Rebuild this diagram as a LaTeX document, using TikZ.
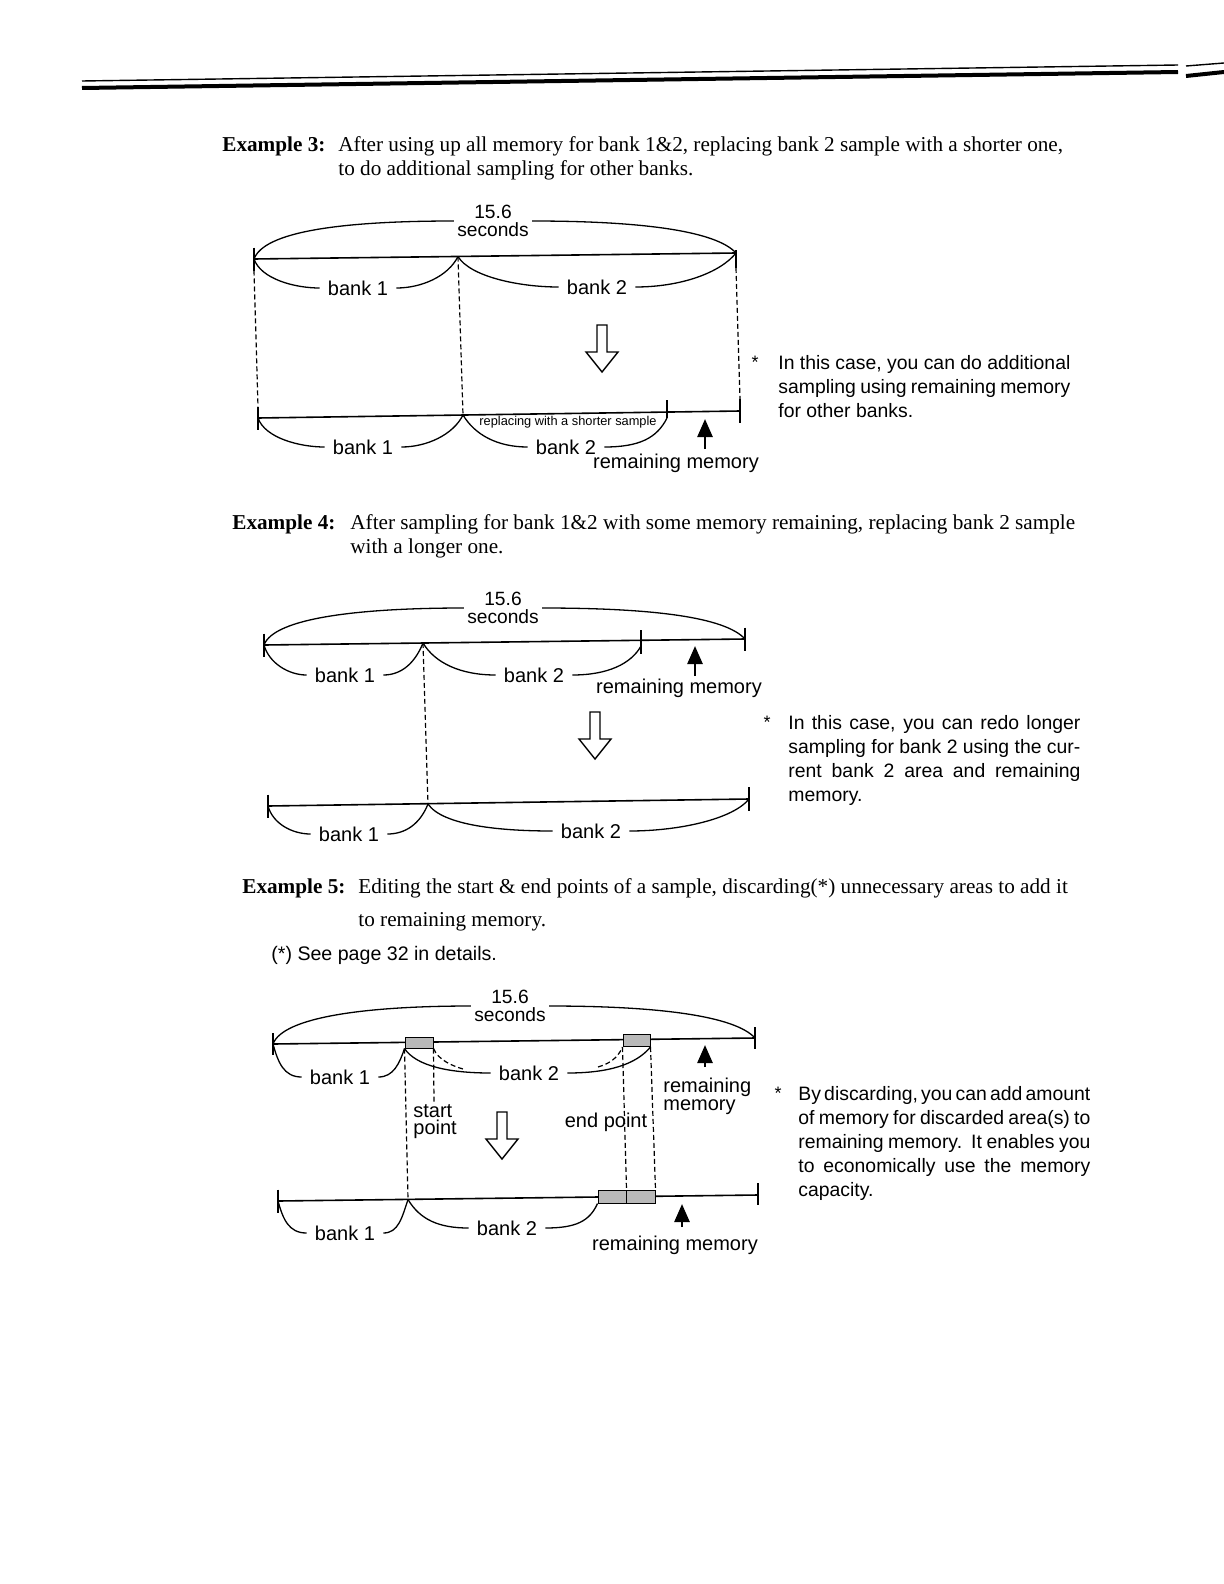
\documentclass[tikz,border=0pt]{standalone}
\usepackage{fontspec}
\setmainfont{Liberation Serif}
\newfontfamily\hv{Liberation Sans}
\usetikzlibrary{arrows.meta}
\begin{document}
\begin{tikzpicture}[x=0.5pt,y=-0.5pt,
  baseln/.style={line width=0.8pt},
  brace/.style={line width=0.65pt},
  guide/.style={line width=0.6pt, dash pattern=on 2.5pt off 1.5pt},
  lbl/.style={font=\hv\fontsize{10}{10}\selectfont, inner xsep=4pt, inner ysep=1pt},
  sec/.style={font=\hv\fontsize{9.6}{9}\selectfont, align=center, inner sep=0.5pt},
  two/.style={font=\hv\fontsize{10}{8.8}\selectfont, align=left, inner sep=0pt, anchor=west},
  head/.style={font=\fontsize{10.6}{12}\selectfont, anchor=west, inner sep=0pt},
  note/.style={font=\hv\fontsize{9.7}{12}\selectfont, text width=146pt, align=justify, anchor=north west, inner sep=0pt},
  star/.style={font=\hv\fontsize{9}{9}\selectfont, inner sep=0pt},
  tiny/.style={font=\hv\fontsize{6.4}{6.4}\selectfont, inner sep=0pt},
  hbox/.style={draw, line width=0.5pt, fill=gray!55, inner sep=0pt},
  solidup/.style={line width=1.3pt, -{Triangle[length=9pt,width=7.5pt]}},
  hollowdown/.pic={\draw[line width=0.7pt, fill=white] (-5,0) -- (5,0) -- (5,27) -- (16,27) -- (0,47) -- (-16,27) -- (-5,27) -- cycle;}
]
\useasboundingbox (0,0) rectangle (1224,1584);
\fill[white] (0,0) rectangle (1224,1584);

% ---- top rule of the page
\draw[line width=0.7pt] (82,81) -- (1178,65);
\draw[line width=2pt] (82,88) -- (1178,72);
\draw[line width=0.7pt] (1186,66) -- (1224,63);
\draw[line width=2pt] (1186,76) -- (1224,72);

% ================= Example 3
\node[head] (h3a) at (222,146) {\bfseries Example 3:};
\node[head] (h3b) at (338,146) {After using up all memory for bank 1\&2, replacing bank 2 sample with a shorter one,};
\node[head] (h3c) at (338,170) {to do additional sampling for other banks.};

\coordinate (a1) at (254,259);
\coordinate (a2) at (458,256.5);
\coordinate (a3) at (736,253);
\draw[baseln] (a1) -- (a3);
\draw[baseln] ([yshift=5.75pt]a1) -- ([yshift=-5.75pt]a1);
\draw[baseln] ([yshift=1.5pt]a3) -- ([yshift=-7.5pt]a3);
\node[sec] (s3) at (493,221) {15.6\\seconds};
\node[lbl] (b31) at (358,288) {bank 1};
\node[lbl] (b32) at (597,287) {bank 2};
\draw[brace] (a1) .. controls +(10,-27) and +(-115,0) .. ([xshift=-1pt]s3.west);
\draw[brace] ([xshift=1pt]s3.east) .. controls +(110,0) and +(-20,-22) .. (a3);
\draw[brace] (a1) .. controls +(7,20) and +(-25,0) .. (b31.west);
\draw[brace] (b31.east) .. controls +(25,0) and +(-10,20) .. (a2);
\draw[brace] (a2) .. controls +(12,20) and +(-40,0) .. (b32.west);
\draw[brace] (b32.east) .. controls +(45,0) and +(-16,20) .. (a3);

\pic at (602,325) {hollowdown};

\coordinate (c1) at (258,418);
\coordinate (c2) at (463,415);
\coordinate (c3) at (667,412);
\coordinate (c4) at (740,411);
\draw[baseln] (c1) -- (c4);
\draw[baseln] ([yshift=5.75pt]c1) -- ([yshift=-5.75pt]c1);
\draw[baseln] ([yshift=6pt]c4) -- ([yshift=-6pt]c4);
\draw[baseln] ([yshift=6pt]c3) -- ([yshift=-3pt]c3);
\node[tiny] (rep) at (568,422) {replacing with a shorter sample};
\node[lbl] (b33) at (363,447) {bank 1};
\node[lbl] (b34) at (566,447) {bank 2};
\draw[brace] (c1) .. controls +(7,20) and +(-25,0) .. (b33.west);
\draw[brace] (b33.east) .. controls +(25,0) and +(-10,20) .. (c2);
\draw[brace] (c2) .. controls +(12,20) and +(-30,0) .. (b34.west);
\draw[brace] (b34.east) .. controls +(35,0) and +(-10,20) .. ([yshift=-3pt]c3);
\coordinate (u3a) at (705,449);
\coordinate (u3b) at (705,419);
\draw[solidup] (u3a) -- (u3b);
\node[lbl] (r3) at (676,463) {remaining memory};

\draw[guide] ([yshift=-5.75pt]a1) -- ([yshift=5.75pt]c1);
\draw[guide] (a2) -- (c2);
\draw[guide] ([yshift=-7.5pt]a3) -- ([yshift=6pt]c4);

\node[star] (st3) at (755,362) {*};
\node[note] (n3) at (778,355) {In this case, you can do additional\linebreak sampling using remaining memory\linebreak for other banks.};

% ================= Example 4
\node[head] (h4a) at (232,524) {\bfseries Example 4:};
\node[head] (h4b) at (350,524) {After sampling for bank 1\&2 with some memory remaining, replacing bank 2 sample};
\node[head] (h4c) at (350,548) {with a longer one.};

\coordinate (d1) at (264,645);
\coordinate (d2) at (423,643);
\coordinate (d3) at (641,640);
\coordinate (d4) at (745,639);
\draw[baseln] (d1) -- (d4);
\draw[baseln] ([yshift=5.75pt]d1) -- ([yshift=-5.75pt]d1);
\draw[baseln] ([yshift=5.75pt]d4) -- ([yshift=-5.75pt]d4);
\draw[baseln] ([yshift=5pt]d3) -- ([yshift=-7pt]d3);
\node[sec] (s4) at (503,608) {15.6\\seconds};
\node[lbl] (b41) at (345,675) {bank 1};
\node[lbl] (b42) at (534,675) {bank 2};
\draw[brace] (d1) .. controls +(10,-27) and +(-105,0) .. ([xshift=-1pt]s4.west);
\draw[brace] ([xshift=1pt]s4.east) .. controls +(110,0) and +(-20,-22) .. (d4);
\draw[brace] (d1) .. controls +(5,18) and +(-18,0) .. (b41.west);
\draw[brace] (b41.east) .. controls +(18,0) and +(-8,20) .. (d2);
\draw[brace] (d2) .. controls +(12,20) and +(-35,0) .. (b42.west);
\draw[brace] (b42.east) .. controls +(35,0) and +(-10,18) .. ([yshift=-3pt]d3);
\coordinate (u4a) at (695,676);
\coordinate (u4b) at (695,646);
\draw[solidup] (u4a) -- (u4b);
\node[lbl] (r4) at (679,688) {remaining memory};

\pic at (595,712) {hollowdown};

\coordinate (e1) at (268,806);
\coordinate (e2) at (428,804);
\coordinate (e3) at (749,799);
\draw[baseln] (e1) -- (e3);
\draw[baseln] ([yshift=5.75pt]e1) -- ([yshift=-5.75pt]e1);
\draw[baseln] ([yshift=6pt]e3) -- ([yshift=-6pt]e3);
\node[lbl] (b43) at (349,834) {bank 1};
\node[lbl] (b44) at (591,831) {bank 2};
\draw[brace] (e1) .. controls +(5,18) and +(-18,0) .. (b43.west);
\draw[brace] (b43.east) .. controls +(18,0) and +(-8,20) .. (e2);
\draw[brace] (e2) .. controls +(15,22) and +(-50,0) .. (b44.west);
\draw[brace] (b44.east) .. controls +(50,0) and +(-16,20) .. (e3);
\draw[guide] (d2) -- (e2);

\node[star] (st4) at (767,722) {*};
\node[note] (n4) at (788,715) {In this case, you can redo longer\linebreak sampling for bank 2 using the cur-\linebreak rent bank 2 area and remaining\linebreak memory.};

% ================= Example 5
\node[head] (h5a) at (242,888) {\bfseries Example 5:};
\node[head] (h5b) at (358,888) {Editing the start \& end points of a sample, discarding(*) unnecessary areas to add it};
\node[head] (h5c) at (358,922) {to remaining memory.};
\node[anchor=west, inner sep=0pt, font=\hv\fontsize{9.8}{12}\selectfont] (h5d) at (271,955) {(*) See page 32 in details.};

\coordinate (f1) at (273,1044);
\coordinate (f6) at (755,1038);
\draw[baseln] (f1) -- (f6);
\draw[baseln] ([yshift=5.5pt]f1) -- ([yshift=-5.5pt]f1);
\draw[baseln] ([yshift=5.5pt]f6) -- ([yshift=-5.5pt]f6);
\node[hbox, minimum width=14pt, minimum height=5.5pt] (hb1) at (419,1042.5) {};
\node[hbox, minimum width=13.5pt, minimum height=6pt] (hb2) at (636.5,1040.5) {};
\node[sec] (s5) at (510,1006) {15.6\\seconds};
\node[lbl] (b51) at (340,1077) {bank 1};
\node[lbl] (b52) at (529,1073) {bank 2};
\draw[brace] (f1) .. controls +(10,-27) and +(-105,0) .. ([xshift=-1pt]s5.west);
\draw[brace] ([xshift=1pt]s5.east) .. controls +(110,0) and +(-20,-22) .. (f6);
\draw[brace] (f1) .. controls +(5,18) and +(-18,0) .. (b51.west);
\draw[brace] (b51.east) .. controls +(15,0) and +(-5,15) .. (hb1.south west);
\draw[brace] (hb1.south west) .. controls +(12,18) and +(-40,0) .. (b52.west);
\draw[brace] (b52.east) .. controls +(40,0) and +(-15,18) .. (hb2.south east);
\coordinate (j1) at (463,1069);
\coordinate (j2) at (598,1067);
\draw[guide] (hb1.south east) .. controls +(5,12) and +(-10,-3) .. (j1);
\draw[guide] (j2) .. controls +(10,-3) and +(-5,12) .. (hb2.south west);
\coordinate (u5a) at (705,1067);
\coordinate (u5b) at (705,1045);
\draw[solidup] (u5a) -- (u5b);
\node[two] (r5) at (663,1096.5) {remaining\\memory};
\node[two] (sp) at (413,1121.5) {start\\point};
\node[lbl] (ep) at (606,1122) {end point};

\pic at (502,1112) {hollowdown};

\coordinate (g1) at (278,1201);
\coordinate (g2) at (408,1199.5);
\coordinate (g4) at (758,1195);
\draw[baseln] (g1) -- (g4);
\draw[baseln] ([yshift=5.75pt]g1) -- ([yshift=-5.75pt]g1);
\draw[baseln] ([yshift=6pt]g4) -- ([yshift=-5pt]g4);
\node[hbox, minimum width=14pt, minimum height=6.5pt] (hb3) at (612,1196.5) {};
\node[hbox, minimum width=14.5pt, minimum height=6.5pt] (hb4) at (640.5,1196.5) {};
\node[lbl] (b53) at (345,1233) {bank 1};
\node[lbl] (b54) at (507,1228) {bank 2};
\draw[brace] (g1) .. controls +(5,18) and +(-18,0) .. (b53.west);
\draw[brace] (b53.east) .. controls +(15,0) and +(-6,18) .. (g2);
\draw[brace] (g2) .. controls +(12,20) and +(-30,0) .. (b54.west);
\draw[brace] (b54.east) .. controls +(30,0) and +(-8,18) .. (hb3.south west);
\coordinate (u6a) at (682,1227);
\coordinate (u6b) at (682,1204);
\draw[solidup] (u6a) -- (u6b);
\node[lbl] (r6) at (675,1245) {remaining memory};

\coordinate (j3) at (434,1102);
\draw[guide] (hb1.south west) -- (g2);
\draw[guide] (hb1.south east) -- (j3);
\draw[guide] (hb2.south west) -- (hb3.north east);
\draw[guide] (hb2.south east) -- (hb4.north east);

\node[star] (st5) at (778,1093) {*};
\node[note] (n5) at (798,1086) {\spaceskip=1.6pt plus 4pt minus 0.3pt By discarding, you can add amount\linebreak of memory for discarded area(s) to\linebreak remaining memory. It enables you\linebreak to economically use the memory\linebreak capacity.};
\end{tikzpicture}
\end{document}
